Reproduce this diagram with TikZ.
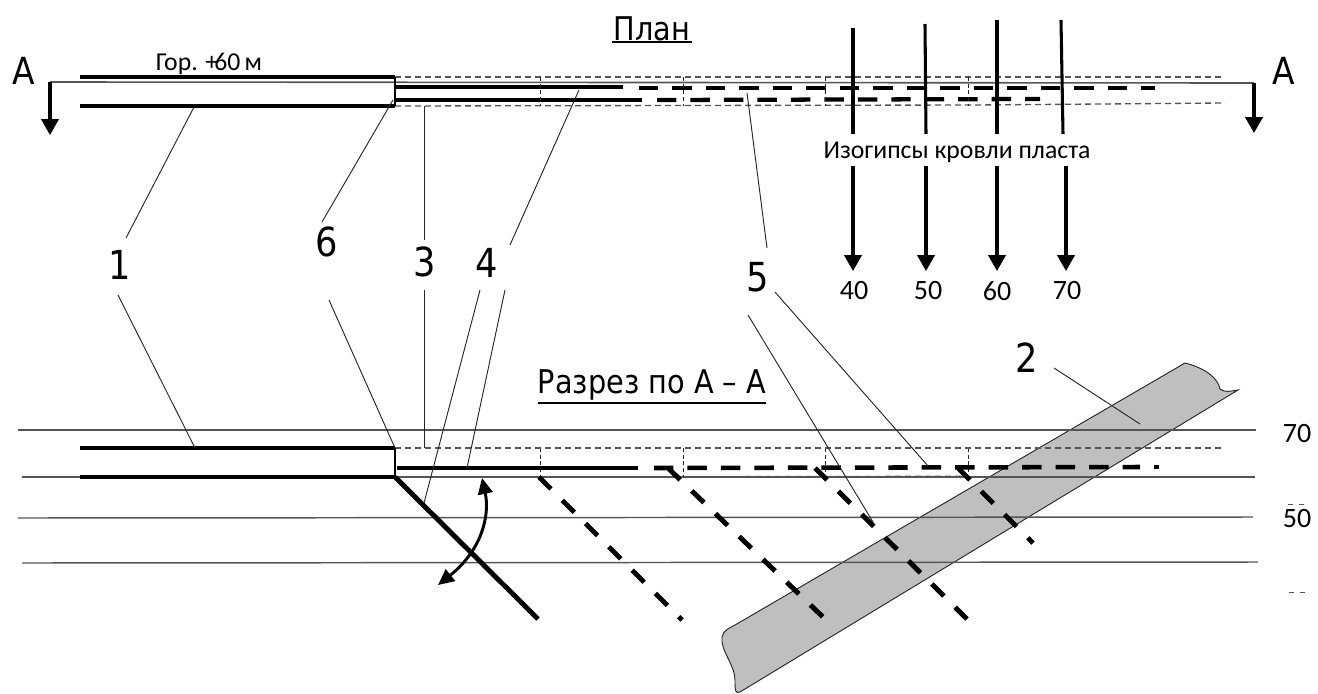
\documentclass[tikz,border=0pt]{standalone}
\usepackage{fontspec}
\setmainfont{Carlito}
\newfontfamily\bigf[FakeStretch=0.88]{DejaVu Sans}
\usetikzlibrary{arrows.meta}
\definecolor{seam}{HTML}{BFBFBF}
\definecolor{lin}{HTML}{555555}
\tikzset{
 x=0.75pt,y=-0.75pt,
 thick line/.style={line width=2.7pt,black},
 level line/.style={line width=1.1pt,lin},
 seam edge/.style={line width=.7pt,draw=black!85,fill=seam},
 contour/.style={line width=2.3pt,black},
 downarrow/.style={line width=2.3pt,-{Triangle[length=12pt,width=13pt]}},
 ghost/.style={line width=1pt,lin,dash pattern=on 4.5pt off 3pt},
 box edge/.style={line width=.7pt,black!85,dash pattern=on 3pt off 2pt},
 plan dash/.style={line width=3.2pt,black,dash pattern=on 14.6pt off 10.5pt},
 slope dash/.style={line width=3.7pt,black,dash pattern=on 12.7pt off 12pt},
 leader/.style={line width=.7pt,black!85},
 big/.style={inner sep=0pt,font=\bigf\fontsize{30}{32}\selectfont},
 title/.style={inner sep=0pt,font=\bigf\fontsize{24.5}{28}\selectfont},
 small/.style={inner sep=0pt,font=\fontsize{19.3}{22}\selectfont},
 num/.style={inner sep=0pt,font=\fontsize{21}{24}\selectfont},
}
\begin{document}
\begin{tikzpicture}
\useasboundingbox (0,0) rectangle (1318,693);
% ---- coordinates: plan
\coordinate (pUL) at (80,77); \coordinate (pUR) at (395,77);
\coordinate (pLL) at (80,106); \coordinate (pLR) at (395,106);
\coordinate (secL) at (50,82); \coordinate (secR) at (1254,83);
\coordinate (secLe) at (50,135); \coordinate (secRe) at (1254,133);
\coordinate (gU) at (1225,77); \coordinate (gL) at (1225,103);
\coordinate (p1a) at (395,87); \coordinate (p1b) at (623,87);
\coordinate (p1c) at (639,88); \coordinate (p1d) at (1155,88);
\coordinate (p2a) at (395,100); \coordinate (p2b) at (642,100);
\coordinate (p2c) at (657,100); \coordinate (p2d) at (1040,99);
% ---- coordinates: section
\coordinate (h1a) at (18,430); \coordinate (h1b) at (1256,430);
\coordinate (h2a) at (22,477); \coordinate (h2b) at (1255,477);
\coordinate (h3a) at (18,518); \coordinate (h3b) at (1253,517);
\coordinate (h4a) at (22,563); \coordinate (h4b) at (1258,562);
\coordinate (sUL) at (80,448); \coordinate (sUR) at (395,448);
\coordinate (sLL) at (80,477); \coordinate (sLR) at (395,477);
\coordinate (sgU) at (1225,448); \coordinate (sgL) at (968,476);
\coordinate (s1a) at (397,468); \coordinate (s1b) at (638,468);
\coordinate (s1c) at (654,468); \coordinate (s1d) at (1140,467);
\coordinate (s1e) at (1154,467); \coordinate (s1f) at (1159,467);
% ---- seam
\filldraw[seam edge] (1185,363) .. controls (1205,368) and (1218,378) .. (1220,389)
  .. controls (1225,393) and (1231,391) .. (1238,390)
  -- (740,692) .. controls (735,694) and (735,690) .. (735,680)
  .. controls (735,665) and (720,650) .. (722,637)
  .. controls (723,630) and (730,628) .. (735,625) -- cycle;
% ---- level lines
\draw[level line] (h1a) -- (h1b);
\draw[level line] (h2a) -- (h2b);
\draw[level line] (h3a) -- (h3b);
\draw[level line] (h4a) -- (h4b);
% ---- plan
\draw[ghost] (pUR) -- (gU);
\draw[ghost] (pLR) -- (975,105) -- (gL);
\draw[level line,line width=1.2pt] (secL) -- (secR);
\draw[thick line] (pUL) -- (pUR);
\draw[thick line] (pLL) -- (pLR);
\draw[line width=1pt] (pUR) -- (pLR);
\draw[thick line,line width=3pt] (p1a) -- (p1b);
\draw[thick line] (p2a) -- (p2b);
\draw[plan dash] (p1c) -- (p1d);
\draw[plan dash] (p2c) -- (p2d);
\draw[downarrow] (secL) -- (secLe);
\draw[downarrow] (secR) -- (secRe);
\foreach \x in {540,683,825,968}{
  \draw[box edge] (\x,77) -- (\x,106);
  \draw[box edge] (\x,448) -- (\x,477);
}
% ---- contours
\foreach \a/\b/\t/\c in {853/853/28/853,925/926/24/926,997/997/20/997,1061/1063/20/1066}{
  \draw[contour] (\a,\t) -- (\b,134);
  \draw[downarrow] (\c,166) -- (\c,271);
}
% ---- section
\draw[ghost] (sUR) -- (sgU);
\draw[ghost,line width=.6pt] (sLR) -- (sgL);
\draw[thick line] (sUL) -- (sUR);
\draw[thick line] (sLL) -- (sLR);
\draw[line width=1pt] (sUR) -- (sLR);
\draw[thick line,line width=3.2pt] (s1a) -- (s1b);
\draw[plan dash,line width=3.4pt] (s1c) -- (s1d);
\draw[line width=3.4pt] (s1e) -- (s1f);
% ---- inclined
\coordinate (i0) at (395,477); \coordinate (i0e) at (538,619);
\coordinate (i1) at (539,477); \coordinate (i1e) at (682,620);
\coordinate (i2) at (668,468); \coordinate (i2e) at (825,619);
\coordinate (i3) at (815,468); \coordinate (i3e) at (967,619);
\coordinate (i4) at (958,468); \coordinate (i4e) at (1033,543);
\draw[line width=3.7pt] (i0) -- (i0e);
\draw[slope dash] (i1) -- (i1e);
\draw[slope dash] (i2) -- (i2e);
\draw[slope dash] (i3) -- (i3e);
\draw[slope dash] (i4) -- (i4e);
% ---- rotation arrow
\coordinate (r1) at (482,478); \coordinate (r2) at (438,585);
\draw[line width=2.2pt,{Triangle[length=12pt,width=11pt]}-{Triangle[length=12pt,width=11pt]}]
  (r1) .. controls (490,515) and (482,550) .. (r2);
% ---- labels
\node[big] (L1) at (120,265) {1};
\node[big] (L6) at (327,242) {6};
\node[big] (L3) at (425,262) {3};
\node[big] (L4) at (487,263) {4};
\node[big] (L5) at (758,277) {5};
\node[big] (L2) at (1027,358) {2};
\node[title,font=\bigf\fontsize{28}{30}\selectfont] (Aa) at (24,71) {А};
\node[title,font=\bigf\fontsize{28}{30}\selectfont] (Ab) at (1284,71) {А};
\node[title] (plan) at (652,29) {План};
\node[title] (razr) at (652,385) {Разрез по А – А};
\coordinate (u1a) at (612,42); \coordinate (u1b) at (692,42);
\coordinate (u2a) at (538,403); \coordinate (u2b) at (766,403);
\draw[line width=1.2pt] (u1a) -- (u1b);
\draw[line width=1.2pt] (u2a) -- (u2b);
\node[small] (gor) at (209,64) {Гор. +\kern-3pt60\,м};
\node[small] (izo) at (957,152) {Изогипсы кровли пласта};
\node[num] (n40) at (854,291) {40};
\node[num] (n50) at (928,291) {50};
\node[num] (n60) at (997,291) {60};
\node[num] (n70) at (1067,291) {70};
\node[num] (r70) at (1297,434) {70};
\node[num] (r50) at (1297,519) {50};
\coordinate (m1a) at (1288,504); \coordinate (m1b) at (1305,504);
\coordinate (m2a) at (1289,592); \coordinate (m2b) at (1306,592);
\draw[lin,line width=.6pt,dash pattern=on 4pt off 4pt] (m1a) -- (m1b);
\draw[lin,line width=.6pt,dash pattern=on 4pt off 4pt] (m2a) -- (m2b);
% ---- leaders
\coordinate (l1a) at (194,107); \coordinate (l1b) at (126,238);
\coordinate (l1c) at (118,295); \coordinate (l1d) at (195,448);
\coordinate (l6a) at (393,100); \coordinate (l6b) at (322,222);
\coordinate (l6c) at (329,300); \coordinate (l6d) at (395,448);
\coordinate (l3a) at (424,106); \coordinate (l3b) at (424,240);
\coordinate (l3c) at (424,290); \coordinate (l3d) at (424,448);
\coordinate (l4a) at (579,90); \coordinate (l4b) at (510,245);
\coordinate (l4c) at (505,290); \coordinate (l4d) at (467,468);
\coordinate (l4e) at (480,290); \coordinate (l4f) at (424,503);
\coordinate (l5a) at (747,93); \coordinate (l5b) at (767,248);
\coordinate (l5c) at (775,292); \coordinate (l5d) at (928,466);
\coordinate (l5e) at (748,315); \coordinate (l5f) at (873,522);
\coordinate (l2a) at (1054,368); \coordinate (l2b) at (1140,424);
\foreach \p/\q in {l1a/l1b,l1c/l1d,l6a/l6b,l6c/l6d,l3a/l3b,l3c/l3d,l4a/l4b,l4c/l4d,l4e/l4f,l5a/l5b,l5c/l5d,l5e/l5f,l2a/l2b}
  \draw[leader] (\p) -- (\q);
\end{tikzpicture}
\end{document}
